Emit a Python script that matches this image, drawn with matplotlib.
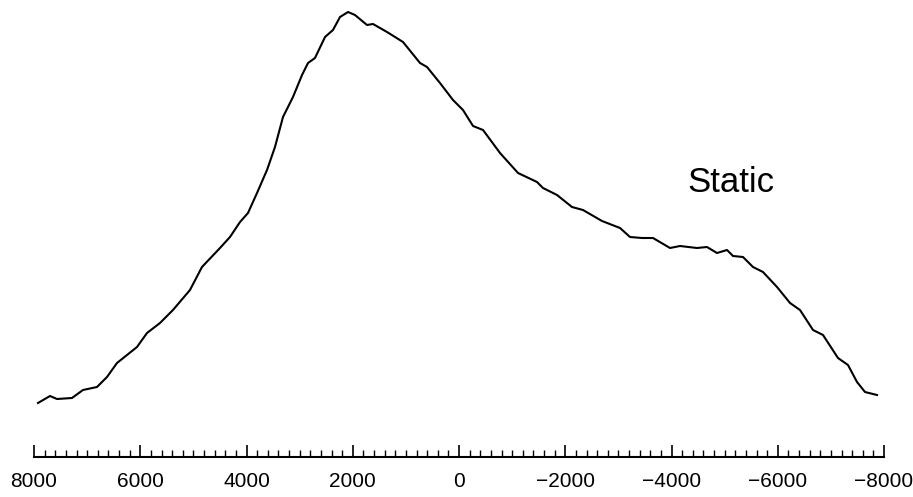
import numpy as np
import matplotlib.pyplot as plt
from matplotlib.ticker import MultipleLocator

plt.rcParams['font.family'] = ['Liberation Sans', 'DejaVu Sans']

# shift values (x axis runs 8000 -> -8000)
shift = [7925, 7699, 7567, 7285, 7078, 6814, 6626, 6438, 6061, 5873,
         5628, 5384, 5064, 4838, 4499, 4311, 4122, 3972, 3802, 3614,
         3464, 3313, 3125, 2955, 2842, 2711, 2522, 2372, 2240, 2089,
         1958, 1732, 1619, 1355, 1054, 734, 602, 358, 113, -75,
         -264, -452, -772, -1111, -1468, -1581, -1845, -2127, -2334, -2692,
         -3031, -3219, -3445, -3652, -3972, -4160, -4480, -4668, -4856, -5045,
         -5158, -5346, -5534, -5722, -5986, -6231, -6419, -6664, -6852, -7134,
         -7322, -7492, -7642, -7868]
# intensity, arbitrary units
intensity = [17, 24, 21, 22, 30, 33, 43, 57, 73, 87,
             97, 110, 130, 153, 172, 183, 198, 207, 227, 250,
             273, 303, 323, 345, 357, 362, 383, 390, 403, 408,
             405, 395, 396, 388, 378, 357, 353, 337, 320, 310,
             294, 290, 267, 247, 238, 232, 225, 213, 210, 199,
             192, 183, 182, 182, 172, 174, 172, 173, 167, 170,
             164, 163, 153, 148, 133, 117, 110, 90, 85, 62,
             55, 38, 28, 25]

fig = plt.figure(figsize=(9.13, 4.97), dpi=100)
ax = fig.add_axes([34 / 913, 40 / 497, 850 / 913, 457 / 497])

ax.plot(shift, intensity, color='black', lw=1.5)
ax.text(-5120, 238, 'Static', fontsize=25, ha='center', va='center')

ax.set_xlim(8000, -8000)
ax.set_ylim(-37, 420)

for s in ['left', 'right', 'top']:
    ax.spines[s].set_visible(False)
ax.spines['bottom'].set_linewidth(1.5)
ax.set_yticks([])
ax.xaxis.set_major_locator(MultipleLocator(2000))
ax.xaxis.set_minor_locator(MultipleLocator(200))
ax.tick_params(axis='x', which='major', direction='in', length=9, width=1.2,
               labelsize=15, pad=11)
ax.tick_params(axis='x', which='minor', direction='in', length=5, width=1.0)

fig.savefig('out.png', dpi=100)
